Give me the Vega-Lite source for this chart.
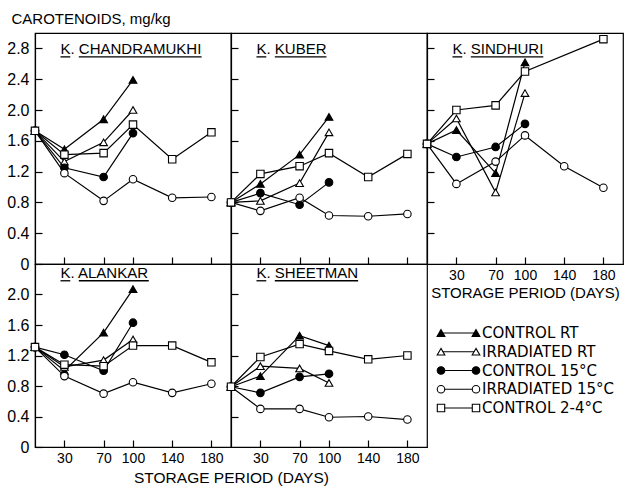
{
  "$schema": "https://vega.github.io/schema/vega-lite/v6.json",
  "padding": {"left": 6, "top": 10, "right": 0, "bottom": 0},
  "config": {
    "font": "Liberation Sans",
    "view": {"stroke": "black", "strokeWidth": 1.2},
    "axis": {"grid": false, "domainColor": "black", "domainWidth": 1.2, "tickColor": "black", "tickWidth": 1.2, "labelColor": "black", "titleColor": "black", "labelFontSize": 14, "titleFontSize": 15, "titleFontWeight": "normal", "tickSize": -7, "labelPadding": 11, "labelOverlap": false},
    "text": {"font": "Liberation Sans", "color": "black"}
  },
  "datasets": {
    "d": [
      {"v": "CHANDRAMUKHI", "s": "CONTROL RT", "day": 0, "val": 1.73},
      {"v": "CHANDRAMUKHI", "s": "CONTROL RT", "day": 30, "val": 1.49},
      {"v": "CHANDRAMUKHI", "s": "CONTROL RT", "day": 70, "val": 1.88},
      {"v": "CHANDRAMUKHI", "s": "CONTROL RT", "day": 100, "val": 2.39},
      {"v": "CHANDRAMUKHI", "s": "IRRADIATED RT", "day": 0, "val": 1.73},
      {"v": "CHANDRAMUKHI", "s": "IRRADIATED RT", "day": 30, "val": 1.33},
      {"v": "CHANDRAMUKHI", "s": "IRRADIATED RT", "day": 70, "val": 1.58},
      {"v": "CHANDRAMUKHI", "s": "IRRADIATED RT", "day": 100, "val": 2.0},
      {"v": "CHANDRAMUKHI", "s": "CONTROL 15°C", "day": 0, "val": 1.73},
      {"v": "CHANDRAMUKHI", "s": "CONTROL 15°C", "day": 30, "val": 1.25},
      {"v": "CHANDRAMUKHI", "s": "CONTROL 15°C", "day": 70, "val": 1.13},
      {"v": "CHANDRAMUKHI", "s": "CONTROL 15°C", "day": 100, "val": 1.7},
      {"v": "CHANDRAMUKHI", "s": "IRRADIATED 15°C", "day": 0, "val": 1.73},
      {"v": "CHANDRAMUKHI", "s": "IRRADIATED 15°C", "day": 30, "val": 1.18},
      {"v": "CHANDRAMUKHI", "s": "IRRADIATED 15°C", "day": 70, "val": 0.82},
      {"v": "CHANDRAMUKHI", "s": "IRRADIATED 15°C", "day": 100, "val": 1.1},
      {"v": "CHANDRAMUKHI", "s": "IRRADIATED 15°C", "day": 140, "val": 0.86},
      {"v": "CHANDRAMUKHI", "s": "IRRADIATED 15°C", "day": 180, "val": 0.87},
      {"v": "CHANDRAMUKHI", "s": "CONTROL 2-4°C", "day": 0, "val": 1.73},
      {"v": "CHANDRAMUKHI", "s": "CONTROL 2-4°C", "day": 30, "val": 1.42},
      {"v": "CHANDRAMUKHI", "s": "CONTROL 2-4°C", "day": 70, "val": 1.44},
      {"v": "CHANDRAMUKHI", "s": "CONTROL 2-4°C", "day": 100, "val": 1.81},
      {"v": "CHANDRAMUKHI", "s": "CONTROL 2-4°C", "day": 140, "val": 1.36},
      {"v": "CHANDRAMUKHI", "s": "CONTROL 2-4°C", "day": 180, "val": 1.71},

      {"v": "KUBER", "s": "CONTROL RT", "day": 0, "val": 0.8},
      {"v": "KUBER", "s": "CONTROL RT", "day": 30, "val": 1.04},
      {"v": "KUBER", "s": "CONTROL RT", "day": 70, "val": 1.42},
      {"v": "KUBER", "s": "CONTROL RT", "day": 100, "val": 1.91},
      {"v": "KUBER", "s": "IRRADIATED RT", "day": 0, "val": 0.8},
      {"v": "KUBER", "s": "IRRADIATED RT", "day": 30, "val": 0.82},
      {"v": "KUBER", "s": "IRRADIATED RT", "day": 70, "val": 1.05},
      {"v": "KUBER", "s": "IRRADIATED RT", "day": 100, "val": 1.71},
      {"v": "KUBER", "s": "CONTROL 15°C", "day": 0, "val": 0.8},
      {"v": "KUBER", "s": "CONTROL 15°C", "day": 30, "val": 0.92},
      {"v": "KUBER", "s": "CONTROL 15°C", "day": 70, "val": 0.77},
      {"v": "KUBER", "s": "CONTROL 15°C", "day": 100, "val": 1.06},
      {"v": "KUBER", "s": "IRRADIATED 15°C", "day": 0, "val": 0.8},
      {"v": "KUBER", "s": "IRRADIATED 15°C", "day": 30, "val": 0.69},
      {"v": "KUBER", "s": "IRRADIATED 15°C", "day": 70, "val": 0.86},
      {"v": "KUBER", "s": "IRRADIATED 15°C", "day": 100, "val": 0.63},
      {"v": "KUBER", "s": "IRRADIATED 15°C", "day": 140, "val": 0.62},
      {"v": "KUBER", "s": "IRRADIATED 15°C", "day": 180, "val": 0.65},
      {"v": "KUBER", "s": "CONTROL 2-4°C", "day": 0, "val": 0.8},
      {"v": "KUBER", "s": "CONTROL 2-4°C", "day": 30, "val": 1.17},
      {"v": "KUBER", "s": "CONTROL 2-4°C", "day": 70, "val": 1.27},
      {"v": "KUBER", "s": "CONTROL 2-4°C", "day": 100, "val": 1.44},
      {"v": "KUBER", "s": "CONTROL 2-4°C", "day": 140, "val": 1.13},
      {"v": "KUBER", "s": "CONTROL 2-4°C", "day": 180, "val": 1.43},

      {"v": "SINDHURI", "s": "CONTROL RT", "day": 0, "val": 1.56},
      {"v": "SINDHURI", "s": "CONTROL RT", "day": 30, "val": 1.74},
      {"v": "SINDHURI", "s": "CONTROL RT", "day": 70, "val": 1.18},
      {"v": "SINDHURI", "s": "CONTROL RT", "day": 100, "val": 2.62},
      {"v": "SINDHURI", "s": "IRRADIATED RT", "day": 0, "val": 1.56},
      {"v": "SINDHURI", "s": "IRRADIATED RT", "day": 30, "val": 1.89},
      {"v": "SINDHURI", "s": "IRRADIATED RT", "day": 70, "val": 0.93},
      {"v": "SINDHURI", "s": "IRRADIATED RT", "day": 100, "val": 2.22},
      {"v": "SINDHURI", "s": "CONTROL 15°C", "day": 0, "val": 1.56},
      {"v": "SINDHURI", "s": "CONTROL 15°C", "day": 30, "val": 1.39},
      {"v": "SINDHURI", "s": "CONTROL 15°C", "day": 70, "val": 1.52},
      {"v": "SINDHURI", "s": "CONTROL 15°C", "day": 100, "val": 1.82},
      {"v": "SINDHURI", "s": "IRRADIATED 15°C", "day": 0, "val": 1.56},
      {"v": "SINDHURI", "s": "IRRADIATED 15°C", "day": 30, "val": 1.04},
      {"v": "SINDHURI", "s": "IRRADIATED 15°C", "day": 70, "val": 1.33},
      {"v": "SINDHURI", "s": "IRRADIATED 15°C", "day": 100, "val": 1.67},
      {"v": "SINDHURI", "s": "IRRADIATED 15°C", "day": 140, "val": 1.27},
      {"v": "SINDHURI", "s": "IRRADIATED 15°C", "day": 180, "val": 0.99},
      {"v": "SINDHURI", "s": "CONTROL 2-4°C", "day": 0, "val": 1.56},
      {"v": "SINDHURI", "s": "CONTROL 2-4°C", "day": 30, "val": 2.0},
      {"v": "SINDHURI", "s": "CONTROL 2-4°C", "day": 70, "val": 2.06},
      {"v": "SINDHURI", "s": "CONTROL 2-4°C", "day": 100, "val": 2.5},
      {"v": "SINDHURI", "s": "CONTROL 2-4°C", "day": 180, "val": 2.92},

      {"v": "ALANKAR", "s": "CONTROL RT", "day": 0, "val": 1.31},
      {"v": "ALANKAR", "s": "CONTROL RT", "day": 30, "val": 1.0},
      {"v": "ALANKAR", "s": "CONTROL RT", "day": 70, "val": 1.5},
      {"v": "ALANKAR", "s": "CONTROL RT", "day": 100, "val": 2.07},
      {"v": "ALANKAR", "s": "IRRADIATED RT", "day": 0, "val": 1.31},
      {"v": "ALANKAR", "s": "IRRADIATED RT", "day": 30, "val": 1.05},
      {"v": "ALANKAR", "s": "IRRADIATED RT", "day": 70, "val": 1.14},
      {"v": "ALANKAR", "s": "IRRADIATED RT", "day": 100, "val": 1.41},
      {"v": "ALANKAR", "s": "CONTROL 15°C", "day": 0, "val": 1.31},
      {"v": "ALANKAR", "s": "CONTROL 15°C", "day": 30, "val": 1.21},
      {"v": "ALANKAR", "s": "CONTROL 15°C", "day": 70, "val": 1.0},
      {"v": "ALANKAR", "s": "CONTROL 15°C", "day": 100, "val": 1.63},
      {"v": "ALANKAR", "s": "IRRADIATED 15°C", "day": 0, "val": 1.31},
      {"v": "ALANKAR", "s": "IRRADIATED 15°C", "day": 30, "val": 0.93},
      {"v": "ALANKAR", "s": "IRRADIATED 15°C", "day": 70, "val": 0.7},
      {"v": "ALANKAR", "s": "IRRADIATED 15°C", "day": 100, "val": 0.85},
      {"v": "ALANKAR", "s": "IRRADIATED 15°C", "day": 140, "val": 0.71},
      {"v": "ALANKAR", "s": "IRRADIATED 15°C", "day": 180, "val": 0.83},
      {"v": "ALANKAR", "s": "CONTROL 2-4°C", "day": 0, "val": 1.31},
      {"v": "ALANKAR", "s": "CONTROL 2-4°C", "day": 30, "val": 1.08},
      {"v": "ALANKAR", "s": "CONTROL 2-4°C", "day": 70, "val": 1.06},
      {"v": "ALANKAR", "s": "CONTROL 2-4°C", "day": 100, "val": 1.33},
      {"v": "ALANKAR", "s": "CONTROL 2-4°C", "day": 140, "val": 1.33},
      {"v": "ALANKAR", "s": "CONTROL 2-4°C", "day": 180, "val": 1.11},

      {"v": "SHEETMAN", "s": "CONTROL RT", "day": 0, "val": 0.79},
      {"v": "SHEETMAN", "s": "CONTROL RT", "day": 30, "val": 0.93},
      {"v": "SHEETMAN", "s": "CONTROL RT", "day": 70, "val": 1.46},
      {"v": "SHEETMAN", "s": "CONTROL RT", "day": 100, "val": 1.33},
      {"v": "SHEETMAN", "s": "IRRADIATED RT", "day": 0, "val": 0.79},
      {"v": "SHEETMAN", "s": "IRRADIATED RT", "day": 30, "val": 1.06},
      {"v": "SHEETMAN", "s": "IRRADIATED RT", "day": 70, "val": 1.03},
      {"v": "SHEETMAN", "s": "IRRADIATED RT", "day": 100, "val": 0.84},
      {"v": "SHEETMAN", "s": "CONTROL 15°C", "day": 0, "val": 0.79},
      {"v": "SHEETMAN", "s": "CONTROL 15°C", "day": 30, "val": 0.71},
      {"v": "SHEETMAN", "s": "CONTROL 15°C", "day": 70, "val": 0.92},
      {"v": "SHEETMAN", "s": "CONTROL 15°C", "day": 100, "val": 0.96},
      {"v": "SHEETMAN", "s": "IRRADIATED 15°C", "day": 0, "val": 0.79},
      {"v": "SHEETMAN", "s": "IRRADIATED 15°C", "day": 30, "val": 0.5},
      {"v": "SHEETMAN", "s": "IRRADIATED 15°C", "day": 70, "val": 0.5},
      {"v": "SHEETMAN", "s": "IRRADIATED 15°C", "day": 100, "val": 0.39},
      {"v": "SHEETMAN", "s": "IRRADIATED 15°C", "day": 140, "val": 0.4},
      {"v": "SHEETMAN", "s": "IRRADIATED 15°C", "day": 180, "val": 0.36},
      {"v": "SHEETMAN", "s": "CONTROL 2-4°C", "day": 0, "val": 0.79},
      {"v": "SHEETMAN", "s": "CONTROL 2-4°C", "day": 30, "val": 1.18},
      {"v": "SHEETMAN", "s": "CONTROL 2-4°C", "day": 70, "val": 1.35},
      {"v": "SHEETMAN", "s": "CONTROL 2-4°C", "day": 100, "val": 1.26},
      {"v": "SHEETMAN", "s": "CONTROL 2-4°C", "day": 140, "val": 1.15},
      {"v": "SHEETMAN", "s": "CONTROL 2-4°C", "day": 180, "val": 1.2}
    ],
    "leg": [
      {"s": "CONTROL RT"},
      {"s": "IRRADIATED RT"},
      {"s": "CONTROL 15°C"},
      {"s": "IRRADIATED 15°C"},
      {"s": "CONTROL 2-4°C"}
    ]
  },
  "bounds": "flush",
  "spacing": 0,
  "columns": 3,
  "resolve": {"scale": {"x": "independent", "y": "independent"}},
  "concat": [
    {
      "width": 196, "height": 231,
      "layer": [
        {"data": {"name": "d"}, "transform": [{"filter": "datum.v == 'CHANDRAMUKHI'"}],
         "mark": {"type": "line", "color": "black", "strokeWidth": 1.2},
         "encoding": {
           "x": {"field": "day", "type": "quantitative", "scale": {"domain": [0, 200]}, "axis": {"values": [30, 70, 100, 140, 180], "tickCount": 20, "labels": false, "title": null}},
           "y": {"field": "val", "type": "quantitative", "scale": {"domain": [0, 3]}, "axis": {"values": [0, 0.4, 0.8, 1.2, 1.6, 2.0, 2.4, 2.8], "tickCount": 20, "labelFontSize": 16, "labelPadding": 13, "labelExpr": "datum.value == 0 ? '0' : format(datum.value, '.1f')", "title": "CAROTENOIDS, mg/kg", "titleFontSize": 15, "titleAngle": 0, "titleAlign": "left", "titleBaseline": "middle", "titleX": -24, "titleY": -15}},
           "detail": {"field": "s"}}},
        {"data": {"name": "d"}, "transform": [{"filter": "datum.v == 'CHANDRAMUKHI'"}],
         "mark": {"type": "point", "filled": true, "stroke": "black", "strokeWidth": 1.1, "opacity": 1},
         "encoding": {
           "x": {"field": "day", "type": "quantitative"},
           "y": {"field": "val", "type": "quantitative"},
           "shape": {"field": "s", "scale": {"domain": ["CONTROL RT", "IRRADIATED RT", "CONTROL 15°C", "IRRADIATED 15°C", "CONTROL 2-4°C"], "range": ["triangle-up", "triangle-up", "circle", "circle", "square"]}, "legend": null},
           "fill": {"field": "s", "scale": {"domain": ["CONTROL RT", "IRRADIATED RT", "CONTROL 15°C", "IRRADIATED 15°C", "CONTROL 2-4°C"], "range": ["black", "white", "black", "white", "white"]}, "legend": null},
           "size": {"field": "s", "scale": {"domain": ["CONTROL RT", "IRRADIATED RT", "CONTROL 15°C", "IRRADIATED 15°C", "CONTROL 2-4°C"], "range": [60, 55, 24, 20, 70]}, "legend": null}}},
        {"data": {"values": [{}]}, "mark": {"type": "text", "align": "left", "baseline": "middle", "fontSize": 15},
         "encoding": {"x": {"datum": 26, "type": "quantitative"}, "y": {"datum": 2.79, "type": "quantitative"}, "text": {"value": "K. CHANDRAMUKHI"}}},
        {"data": {"values": [{}]}, "mark": {"type": "rule", "color": "black", "strokeWidth": 1.3},
         "encoding": {"x": {"datum": 26, "type": "quantitative"}, "x2": {"datum": 36}, "y": {"datum": 2.69, "type": "quantitative"}}},
        {"data": {"values": [{}]}, "mark": {"type": "rule", "color": "black", "strokeWidth": 1.3},
         "encoding": {"x": {"datum": 44.7, "type": "quantitative"}, "x2": {"datum": 170}, "y": {"datum": 2.69, "type": "quantitative"}}}
      ]
    },
    {
      "width": 196, "height": 231,
      "layer": [
        {"data": {"name": "d"}, "transform": [{"filter": "datum.v == 'KUBER'"}],
         "mark": {"type": "line", "color": "black", "strokeWidth": 1.2},
         "encoding": {
           "x": {"field": "day", "type": "quantitative", "scale": {"domain": [0, 200]}, "axis": {"values": [30, 70, 100, 140, 180], "tickCount": 20, "labels": false, "title": null}},
           "y": {"field": "val", "type": "quantitative", "scale": {"domain": [0, 3]}, "axis": {"values": [0.4, 0.8, 1.2, 1.6, 2.0, 2.4, 2.8], "tickCount": 20, "labels": false, "title": null}},
           "detail": {"field": "s"}}},
        {"data": {"name": "d"}, "transform": [{"filter": "datum.v == 'KUBER'"}],
         "mark": {"type": "point", "filled": true, "stroke": "black", "strokeWidth": 1.1, "opacity": 1},
         "encoding": {
           "x": {"field": "day", "type": "quantitative"},
           "y": {"field": "val", "type": "quantitative"},
           "shape": {"field": "s", "scale": {"domain": ["CONTROL RT", "IRRADIATED RT", "CONTROL 15°C", "IRRADIATED 15°C", "CONTROL 2-4°C"], "range": ["triangle-up", "triangle-up", "circle", "circle", "square"]}, "legend": null},
           "fill": {"field": "s", "scale": {"domain": ["CONTROL RT", "IRRADIATED RT", "CONTROL 15°C", "IRRADIATED 15°C", "CONTROL 2-4°C"], "range": ["black", "white", "black", "white", "white"]}, "legend": null},
           "size": {"field": "s", "scale": {"domain": ["CONTROL RT", "IRRADIATED RT", "CONTROL 15°C", "IRRADIATED 15°C", "CONTROL 2-4°C"], "range": [60, 55, 24, 20, 70]}, "legend": null}}},
        {"data": {"values": [{}]}, "mark": {"type": "text", "align": "left", "baseline": "middle", "fontSize": 15},
         "encoding": {"x": {"datum": 26, "type": "quantitative"}, "y": {"datum": 2.79, "type": "quantitative"}, "text": {"value": "K. KUBER"}}},
        {"data": {"values": [{}]}, "mark": {"type": "rule", "color": "black", "strokeWidth": 1.3},
         "encoding": {"x": {"datum": 26, "type": "quantitative"}, "x2": {"datum": 36}, "y": {"datum": 2.69, "type": "quantitative"}}},
        {"data": {"values": [{}]}, "mark": {"type": "rule", "color": "black", "strokeWidth": 1.3},
         "encoding": {"x": {"datum": 44.7, "type": "quantitative"}, "x2": {"datum": 97.4}, "y": {"datum": 2.69, "type": "quantitative"}}}
      ]
    },
    {
      "width": 196, "height": 231,
      "layer": [
        {"data": {"name": "d"}, "transform": [{"filter": "datum.v == 'SINDHURI'"}],
         "mark": {"type": "line", "color": "black", "strokeWidth": 1.2},
         "encoding": {
           "x": {"field": "day", "type": "quantitative", "scale": {"domain": [0, 200]}, "axis": {"values": [30, 70, 100, 140, 180], "tickCount": 20, "title": "STORAGE PERIOD (DAYS)", "titlePadding": 3}},
           "y": {"field": "val", "type": "quantitative", "scale": {"domain": [0, 3]}, "axis": {"values": [0.4, 0.8, 1.2, 1.6, 2.0, 2.4, 2.8], "tickCount": 20, "labels": false, "title": null}},
           "detail": {"field": "s"}}},
        {"data": {"name": "d"}, "transform": [{"filter": "datum.v == 'SINDHURI'"}],
         "mark": {"type": "point", "filled": true, "stroke": "black", "strokeWidth": 1.1, "opacity": 1},
         "encoding": {
           "x": {"field": "day", "type": "quantitative"},
           "y": {"field": "val", "type": "quantitative"},
           "shape": {"field": "s", "scale": {"domain": ["CONTROL RT", "IRRADIATED RT", "CONTROL 15°C", "IRRADIATED 15°C", "CONTROL 2-4°C"], "range": ["triangle-up", "triangle-up", "circle", "circle", "square"]}, "legend": null},
           "fill": {"field": "s", "scale": {"domain": ["CONTROL RT", "IRRADIATED RT", "CONTROL 15°C", "IRRADIATED 15°C", "CONTROL 2-4°C"], "range": ["black", "white", "black", "white", "white"]}, "legend": null},
           "size": {"field": "s", "scale": {"domain": ["CONTROL RT", "IRRADIATED RT", "CONTROL 15°C", "IRRADIATED 15°C", "CONTROL 2-4°C"], "range": [60, 55, 24, 20, 70]}, "legend": null}}},
        {"data": {"values": [{}]}, "mark": {"type": "text", "align": "left", "baseline": "middle", "fontSize": 15},
         "encoding": {"x": {"datum": 26, "type": "quantitative"}, "y": {"datum": 2.79, "type": "quantitative"}, "text": {"value": "K. SINDHURI"}}},
        {"data": {"values": [{}]}, "mark": {"type": "rule", "color": "black", "strokeWidth": 1.3},
         "encoding": {"x": {"datum": 26, "type": "quantitative"}, "x2": {"datum": 36}, "y": {"datum": 2.69, "type": "quantitative"}}},
        {"data": {"values": [{}]}, "mark": {"type": "rule", "color": "black", "strokeWidth": 1.3},
         "encoding": {"x": {"datum": 44.7, "type": "quantitative"}, "x2": {"datum": 118.7}, "y": {"datum": 2.69, "type": "quantitative"}}}
      ]
    },
    {
      "width": 196, "height": 183,
      "layer": [
        {"data": {"name": "d"}, "transform": [{"filter": "datum.v == 'ALANKAR'"}],
         "mark": {"type": "line", "color": "black", "strokeWidth": 1.2},
         "encoding": {
           "x": {"field": "day", "type": "quantitative", "scale": {"domain": [0, 200]}, "axis": {"values": [30, 70, 100, 140, 180], "tickCount": 20, "title": "STORAGE PERIOD (DAYS)", "titleFontSize": 15.5, "titleX": 196, "titleAlign": "center", "titlePadding": 5}},
           "y": {"field": "val", "type": "quantitative", "scale": {"domain": [0, 2.4]}, "axis": {"values": [0, 0.4, 0.8, 1.2, 1.6, 2.0], "tickCount": 20, "labelFontSize": 16, "labelPadding": 13, "labelExpr": "datum.value == 0 ? '0' : format(datum.value, '.1f')", "title": null}},
           "detail": {"field": "s"}}},
        {"data": {"name": "d"}, "transform": [{"filter": "datum.v == 'ALANKAR'"}],
         "mark": {"type": "point", "filled": true, "stroke": "black", "strokeWidth": 1.1, "opacity": 1},
         "encoding": {
           "x": {"field": "day", "type": "quantitative"},
           "y": {"field": "val", "type": "quantitative"},
           "shape": {"field": "s", "scale": {"domain": ["CONTROL RT", "IRRADIATED RT", "CONTROL 15°C", "IRRADIATED 15°C", "CONTROL 2-4°C"], "range": ["triangle-up", "triangle-up", "circle", "circle", "square"]}, "legend": null},
           "fill": {"field": "s", "scale": {"domain": ["CONTROL RT", "IRRADIATED RT", "CONTROL 15°C", "IRRADIATED 15°C", "CONTROL 2-4°C"], "range": ["black", "white", "black", "white", "white"]}, "legend": null},
           "size": {"field": "s", "scale": {"domain": ["CONTROL RT", "IRRADIATED RT", "CONTROL 15°C", "IRRADIATED 15°C", "CONTROL 2-4°C"], "range": [60, 55, 24, 20, 70]}, "legend": null}}},
        {"data": {"values": [{}]}, "mark": {"type": "text", "align": "left", "baseline": "middle", "fontSize": 15},
         "encoding": {"x": {"datum": 26, "type": "quantitative"}, "y": {"datum": 2.28, "type": "quantitative"}, "text": {"value": "K. ALANKAR"}}},
        {"data": {"values": [{}]}, "mark": {"type": "rule", "color": "black", "strokeWidth": 1.3},
         "encoding": {"x": {"datum": 26, "type": "quantitative"}, "x2": {"datum": 36}, "y": {"datum": 2.18, "type": "quantitative"}}},
        {"data": {"values": [{}]}, "mark": {"type": "rule", "color": "black", "strokeWidth": 1.3},
         "encoding": {"x": {"datum": 44.7, "type": "quantitative"}, "x2": {"datum": 116.1}, "y": {"datum": 2.18, "type": "quantitative"}}}
      ]
    },
    {
      "width": 196, "height": 183,
      "layer": [
        {"data": {"name": "d"}, "transform": [{"filter": "datum.v == 'SHEETMAN'"}],
         "mark": {"type": "line", "color": "black", "strokeWidth": 1.2},
         "encoding": {
           "x": {"field": "day", "type": "quantitative", "scale": {"domain": [0, 200]}, "axis": {"values": [30, 70, 100, 140, 180], "tickCount": 20, "title": null}},
           "y": {"field": "val", "type": "quantitative", "scale": {"domain": [0, 2.4]}, "axis": {"values": [0.4, 0.8, 1.2, 1.6, 2.0], "tickCount": 20, "labels": false, "title": null}},
           "detail": {"field": "s"}}},
        {"data": {"name": "d"}, "transform": [{"filter": "datum.v == 'SHEETMAN'"}],
         "mark": {"type": "point", "filled": true, "stroke": "black", "strokeWidth": 1.1, "opacity": 1},
         "encoding": {
           "x": {"field": "day", "type": "quantitative"},
           "y": {"field": "val", "type": "quantitative"},
           "shape": {"field": "s", "scale": {"domain": ["CONTROL RT", "IRRADIATED RT", "CONTROL 15°C", "IRRADIATED 15°C", "CONTROL 2-4°C"], "range": ["triangle-up", "triangle-up", "circle", "circle", "square"]}, "legend": null},
           "fill": {"field": "s", "scale": {"domain": ["CONTROL RT", "IRRADIATED RT", "CONTROL 15°C", "IRRADIATED 15°C", "CONTROL 2-4°C"], "range": ["black", "white", "black", "white", "white"]}, "legend": null},
           "size": {"field": "s", "scale": {"domain": ["CONTROL RT", "IRRADIATED RT", "CONTROL 15°C", "IRRADIATED 15°C", "CONTROL 2-4°C"], "range": [60, 55, 24, 20, 70]}, "legend": null}}},
        {"data": {"values": [{}]}, "mark": {"type": "text", "align": "left", "baseline": "middle", "fontSize": 15},
         "encoding": {"x": {"datum": 26, "type": "quantitative"}, "y": {"datum": 2.28, "type": "quantitative"}, "text": {"value": "K. SHEETMAN"}}},
        {"data": {"values": [{}]}, "mark": {"type": "rule", "color": "black", "strokeWidth": 1.3},
         "encoding": {"x": {"datum": 26, "type": "quantitative"}, "x2": {"datum": 36}, "y": {"datum": 2.18, "type": "quantitative"}}},
        {"data": {"values": [{}]}, "mark": {"type": "rule", "color": "black", "strokeWidth": 1.3},
         "encoding": {"x": {"datum": 44.7, "type": "quantitative"}, "x2": {"datum": 129.7}, "y": {"datum": 2.18, "type": "quantitative"}}}
      ]
    },
    {
      "width": 200, "height": 183,
      "view": {"stroke": null},
      "data": {"name": "leg"},
      "encoding": {
        "y": {"field": "s", "type": "nominal", "scale": {"type": "point", "padding": 0, "domain": ["CONTROL RT", "IRRADIATED RT", "CONTROL 15°C", "IRRADIATED 15°C", "CONTROL 2-4°C"], "range": [69, 144]}, "axis": null}
      },
      "layer": [
        {"mark": {"type": "rule", "color": "black", "strokeWidth": 1.2},
         "encoding": {"x": {"datum": 14, "type": "quantitative", "scale": {"domain": [0, 200]}, "axis": null}, "x2": {"datum": 49}}},
        {"mark": {"type": "point", "filled": true, "stroke": "black", "strokeWidth": 1.1, "opacity": 1},
         "encoding": {
           "x": {"datum": 14, "type": "quantitative"},
           "shape": {"field": "s", "scale": {"domain": ["CONTROL RT", "IRRADIATED RT", "CONTROL 15°C", "IRRADIATED 15°C", "CONTROL 2-4°C"], "range": ["triangle-up", "triangle-up", "circle", "circle", "square"]}, "legend": null},
           "fill": {"field": "s", "scale": {"domain": ["CONTROL RT", "IRRADIATED RT", "CONTROL 15°C", "IRRADIATED 15°C", "CONTROL 2-4°C"], "range": ["black", "white", "black", "white", "white"]}, "legend": null},
           "size": {"field": "s", "scale": {"domain": ["CONTROL RT", "IRRADIATED RT", "CONTROL 15°C", "IRRADIATED 15°C", "CONTROL 2-4°C"], "range": [60, 55, 24, 20, 70]}, "legend": null}}},
        {"mark": {"type": "point", "filled": true, "stroke": "black", "strokeWidth": 1.1, "opacity": 1},
         "encoding": {
           "x": {"datum": 49, "type": "quantitative"},
           "shape": {"field": "s", "scale": {"domain": ["CONTROL RT", "IRRADIATED RT", "CONTROL 15°C", "IRRADIATED 15°C", "CONTROL 2-4°C"], "range": ["triangle-up", "triangle-up", "circle", "circle", "square"]}, "legend": null},
           "fill": {"field": "s", "scale": {"domain": ["CONTROL RT", "IRRADIATED RT", "CONTROL 15°C", "IRRADIATED 15°C", "CONTROL 2-4°C"], "range": ["black", "white", "black", "white", "white"]}, "legend": null},
           "size": {"field": "s", "scale": {"domain": ["CONTROL RT", "IRRADIATED RT", "CONTROL 15°C", "IRRADIATED 15°C", "CONTROL 2-4°C"], "range": [60, 55, 24, 20, 70]}, "legend": null}}},
        {"mark": {"type": "text", "align": "left", "baseline": "middle", "fontSize": 15, "font": "DejaVu Sans"},
         "encoding": {"x": {"datum": 55, "type": "quantitative"}, "text": {"field": "s"}}}
      ]
    }
  ]
}
